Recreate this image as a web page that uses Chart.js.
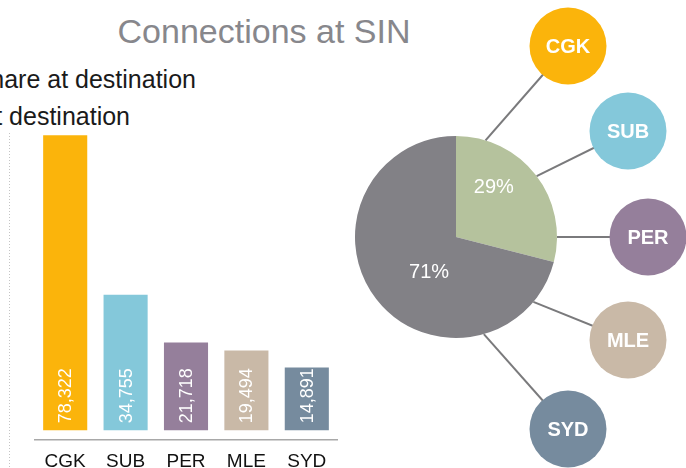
<!DOCTYPE html>
<html>
<head>
<meta charset="utf-8">
<script src="https://cdn.jsdelivr.net/npm/chart.js@4"></script>
<style>
  html, body { margin: 0; padding: 0; background: #fff; }
  body { width: 686px; height: 468px; position: relative; overflow: hidden; font-family: "Liberation Sans", Arial, sans-serif; }
  #title { position: absolute; left: 0; width: 528px; top: 14px; text-align: center; font-size: 34px; line-height: 34px; color: #87878c; white-space: nowrap; }
  .legend { position: absolute; font-size: 25px; line-height: 25px; color: #1a1a1a; white-space: nowrap; text-align: right; }
  #barWrap { position: absolute; left: 0; top: 0; width: 345px; height: 483px; }
  #pieWrap { position: absolute; left: 340px; top: 0; width: 346px; height: 468px; }
</style>
</head>
<body>
<div id="title">Connections at SIN</div>
<div class="legend" style="right: 490px; top: 67px;">Share at destination</div>
<div class="legend" style="right: 556px; top: 104px;">Pax at destination</div>
<div id="barWrap"><canvas id="barChart" width="345" height="483"></canvas></div>
<div id="pieWrap"><canvas id="pieChart" width="346" height="468"></canvas></div>
<script>
// Destinations and passenger counts
const airports = ['CGK', 'SUB', 'PER', 'MLE', 'SYD'];
const passengers = [78322, 34755, 21718, 19494, 14891];

// Share split shown in the pie
const shareLabels = ['At destination', 'Other'];
const shareValues = [29, 71];

const airportColors = ['#fbb40b', '#84c8da', '#957f9b', '#c9b9a7', '#768b9e'];
const shareColors = ['#b5c29d', '#828186'];
const FONT = '"Liberation Sans", Arial, sans-serif';

Chart.defaults.font.family = FONT;
Chart.defaults.animation = false;

// dotted divider on the left of the bar chart
const dividerPlugin = {
  id: 'divider',
  beforeDraw(chart) {
    const ctx = chart.ctx;
    ctx.save();
    ctx.strokeStyle = '#c4c4c4';
    ctx.lineWidth = 1;
    ctx.setLineDash([1, 2]);
    ctx.beginPath();
    ctx.moveTo(9.5, 133);
    ctx.lineTo(9.5, chart.height);
    ctx.stroke();
    ctx.restore();
  }
};

// rotated value labels inside each bar
const barValuePlugin = {
  id: 'barValues',
  afterDatasetsDraw(chart) {
    const ctx = chart.ctx;
    const meta = chart.getDatasetMeta(0);
    ctx.save();
    ctx.fillStyle = '#ffffff';
    ctx.font = '18px ' + FONT;
    ctx.textAlign = 'left';
    ctx.textBaseline = 'middle';
    meta.data.forEach((bar, i) => {
      ctx.save();
      ctx.translate(bar.x, bar.base - 7);
      ctx.rotate(-Math.PI / 2);
      ctx.fillText(passengers[i].toLocaleString('en-US'), 0, 1);
      ctx.restore();
    });
    ctx.restore();
  }
};

new Chart(document.getElementById('barChart'), {
  type: 'bar',
  data: {
    labels: airports,
    datasets: [{
      data: passengers,
      backgroundColor: airportColors,
      borderWidth: 0,
      base: -2300,
      barPercentage: 0.73,
      categoryPercentage: 1
    }]
  },
  options: {
    responsive: false,
    layout: { padding: { left: 35, right: 8, top: 129, bottom: 0 } },
    plugins: { legend: { display: false }, tooltip: { enabled: false } },
    scales: {
      x: {
        grid: { display: false, drawTicks: false },
        border: { display: true, color: '#a8a8a8', width: 1.5 },
        ticks: { color: '#111', font: { size: 19 }, padding: 10, maxRotation: 0 }
      },
      y: {
        display: false,
        min: -5000,
        max: 80000
      }
    }
  },
  plugins: [dividerPlugin, barValuePlugin]
});

// spokes from the pie edge out to one bubble per destination
const spokeAngles = [-73, -37, 0, 40, 74];
const bubbleOffsets = [[112, -191], [172, -106], [192, 0], [172, 103], [112, 192]];
const bubbleRadius = 38.5;

const pieDecorPlugin = {
  id: 'pieDecor',
  afterDatasetsDraw(chart) {
    const ctx = chart.ctx;
    const meta = chart.getDatasetMeta(0);
    const arc0 = meta.data[0];
    const cx = arc0.x, cy = arc0.y, r = arc0.outerRadius;

    // percentage labels
    ctx.save();
    ctx.fillStyle = '#ffffff';
    ctx.font = '20px ' + FONT;
    ctx.textAlign = 'center';
    ctx.textBaseline = 'middle';
    const radii = [0.62, 0.44];
    meta.data.forEach((arc, i) => {
      const mid = (arc.startAngle + arc.endAngle) / 2 - 15 * Math.PI / 180;
      const d = r * radii[i];
      ctx.fillText(shareValues[i] + '%', cx + Math.cos(mid) * d, cy + Math.sin(mid) * d);
    });
    ctx.restore();

    // spokes
    ctx.save();
    ctx.strokeStyle = '#7a7a7c';
    ctx.lineWidth = 2;
    airports.forEach((code, i) => {
      const a = spokeAngles[i] * Math.PI / 180;
      ctx.beginPath();
      ctx.moveTo(cx + Math.cos(a) * r, cy + Math.sin(a) * r);
      ctx.lineTo(cx + bubbleOffsets[i][0], cy + bubbleOffsets[i][1]);
      ctx.stroke();
    });
    ctx.restore();

    // bubbles
    ctx.save();
    ctx.font = 'bold 20px ' + FONT;
    ctx.textAlign = 'center';
    ctx.textBaseline = 'middle';
    airports.forEach((code, i) => {
      const bx = cx + bubbleOffsets[i][0], by = cy + bubbleOffsets[i][1];
      ctx.fillStyle = airportColors[i];
      ctx.beginPath();
      ctx.arc(bx, by, bubbleRadius, 0, Math.PI * 2);
      ctx.fill();
      ctx.fillStyle = '#ffffff';
      ctx.fillText(code, bx, by + 1);
    });
    ctx.restore();
  }
};

new Chart(document.getElementById('pieChart'), {
  type: 'pie',
  data: {
    labels: shareLabels,
    datasets: [{
      data: shareValues,
      backgroundColor: shareColors,
      borderWidth: 0,
      hoverOffset: 0
    }]
  },
  options: {
    responsive: false,
    layout: { padding: { left: 15, right: 129, top: 136, bottom: 130 } },
    plugins: { legend: { display: false }, tooltip: { enabled: false } }
  },
  plugins: [pieDecorPlugin]
});
</script>
</body>
</html>
